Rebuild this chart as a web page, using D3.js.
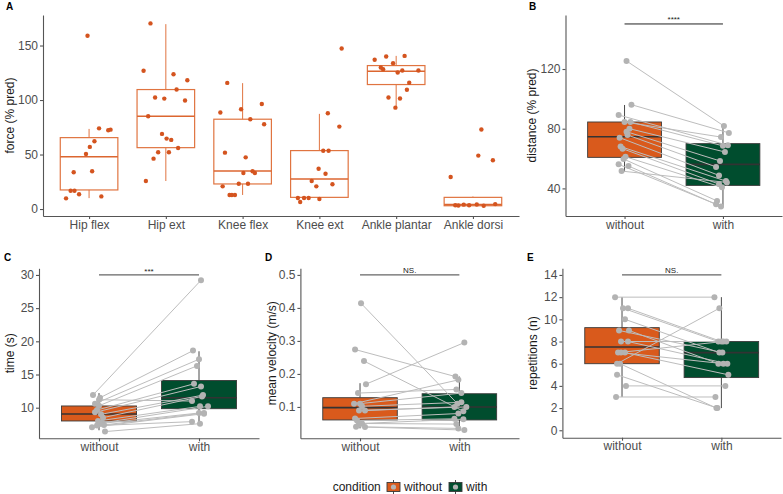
<!DOCTYPE html>
<html>
<head>
<meta charset="utf-8">
<script src="https://cdn.jsdelivr.net/npm/d3@7"></script>
<style>
  body { margin: 0; background: #fff; }
  svg { font-family: "Liberation Sans", Arial, sans-serif; }
</style>
</head>
<body>
<svg></svg>
<script>
const WIDTH = 783;
const HEIGHT = 494;
const ORANGE = '#d95a1c';
const GREEN = '#004d2e';
const CONDITIONS = ['without', 'with'];

// ---- panel A: force per muscle group, [value, jitter as fraction of step]
const muscles = ['Hip flex', 'Hip ext', 'Knee flex', 'Knee ext', 'Ankle plantar', 'Ankle dorsi'];
const forceTicks = [0, 50, 100, 150];
const forceDomain = [-6.4, 178];
// [lower whisker, q1, median, q3, upper whisker]
const forceBoxes = [
  [10, 17.5, 48, 65.5, 73.5],
  [25.7, 56.3, 85.1, 109.6, 169.6],
  [12.9, 23, 34.9, 82.4, 115.5],
  [9.2, 10.7, 27.6, 53.6, 87.3],
  [93, 114.2, 126.4, 131.6, 140.5],
  [3, 3, 4, 10.7, 11.5]
];
const hipFlex = [[158.9, -0.02], [9.8, -0.3], [16.8, -0.24], [16.8, -0.19], [13.5, -0.13], [33.7, -0.2], [34.6, 0.04],
  [50.5, -0.04], [57, 0.01], [62.2, 0.07], [74, 0.13], [72.2, 0.25], [72.8, 0.28], [11.6, 0.16]];
const hipExt = [[170.3, -0.2], [126.9, -0.29], [123.7, 0.1], [118.2, 0.28], [109.6, 0.14], [102.3, -0.14], [101.3, -0.02],
  [99.5, 0.25], [85.1, -0.23], [68.9, -0.05], [64.6, 0.01], [63.4, 0.07], [56, 0.16], [52.1, -0.1], [52.1, 0.04],
  [46.2, -0.16], [25.7, -0.26]];
const kneeFlex = [[115.7, -0.2], [88.5, -0.29], [91.6, -0.02], [82.4, 0.1], [96.4, 0.25], [77.8, 0.28], [51.7, -0.23],
  [47.4, 0.04], [33.1, 0.01], [34.6, 0.13], [33, 0.16], [20.8, -0.26], [23.2, -0.05], [23.2, 0.07], [12.9, -0.17],
  [12.9, -0.14], [12.9, -0.1]];
const kneeExt = [[147.3, 0.29], [87.9, 0.11], [75.6, 0.26], [37, -0.01], [32.4, 0.08], [25.7, -0.1], [22.7, 0.17],
  [20.8, -0.04], [6.4, -0.25], [10.1, -0.28], [10.1, -0.2], [10.1, -0.14], [53.5, 0.05], [53.5, 0.12], [9.2, 0]];
const anklePlantar = [[136.9, -0.28], [139.9, -0.13], [140.5, 0.11], [133.8, -0.04], [129.8, -0.2], [128.3, -0.17],
  [127.1, 0.08], [127.1, 0.29], [125.3, 0.02], [115.8, 0.17], [109.4, 0.14], [102.3, -0.1], [101.4, 0.05], [93, -0.01]];
const ankleDorsi = [[72.9, 0.11], [49, 0.07], [44.7, 0.26], [29.4, -0.29], [3.5, -0.23], [3.2, -0.19], [4, -0.12],
  [3.5, -0.05], [4.2, 0.05], [3, 0.14], [4.5, 0.29]];
const forcePoints = [hipFlex, hipExt, kneeFlex, kneeExt, anklePlantar, ankleDorsi];

// ---- panel B: distance, paired by index
const distWithout = [125.4, 96.1, 89.2, 84.5, 84.5, 80, 78, 75.8, 74, 68, 66.6, 61.2, 59.7, 56.1, 55, 51.6];
const distWith = [81.8, 77.2, 68.9, 74.4, 68.5, 64.4, 58.4, 54.4, 48.7, 44.9, 42.9, 40.7, 31.6, 29.4, 27.9, 44];
const distJitWithout = [0.02, 0.07, -0.06, 0, 0.06, 0.05, 0.02, 0.03, -0.05, -0.04, -0.02, 0.01, -0.01, -0.06, 0.04, -0.03];
const distJitWith = [0.01, 0.06, 0.05, -0.02, 0, 0.02, -0.03, -0.07, -0.04, 0.03, -0.04, -0.01, -0.06, -0.07, -0.02, 0.04];
const distBoxes = [[51.2, 60.8, 74.6, 84.5, 95.9], [27.3, 42, 56.1, 70, 81.5]];
const distTicks = [40, 80, 120];
const distDomain = [21.5, 156.2];

// ---- panel C: time
const timeWithout = [11.9, 11.5, 11.2, 10.6, 10.3, 9.65, 9.3, 9, 8.5, 8, 7.7, 7.6, 7.4, 7.3, 7.05, 6.4];
const timeWith = [29.2, 18.6, 11, 17.3, 16.3, 13.6, 13.2, 11.9, 11.7, 10.2, 10.2, 9.2, 9.2, 7.9, 9.1, 7.6];
const timeJitWithout = [-0.06, 0.01, 0, -0.04, 0, -0.02, -0.04, 0.02, 0.04, -0.01, 0.03, 0.01, 0.05, -0.02, -0.07, 0.06];
const timeJitWith = [0.02, -0.06, -0.07, 0, -0.02, -0.05, 0.02, 0.04, 0.03, 0.01, 0.09, 0, 0.05, -0.07, 0.05, 0.01];
const timeBoxes = [[6.6, 8, 9.05, 10.26, 12.2], [7.6, 9.85, 11.5, 14.1, 18.5]];
const timeTicks = [10, 15, 20, 25, 30];
const timeDomain = [5.39, 31];

// ---- panel D: mean velocity
const velWithout = [0.414, 0.274, 0.239, 0.169, 0.142, 0.11, 0.11, 0.102, 0.0895, 0.089, 0.065, 0.059, 0.05, 0.05, 0.04, 0.039];
const velWith = [0.11, 0.192, 0.087, 0.295, 0.153, 0.182, 0.142, 0.114, 0.1, 0.1, 0.08, 0.064, 0.063, 0.048, 0.035, 0.03];
const velJitWithout = [0.01, -0.05, 0.04, 0.06, -0.02, -0.06, 0, 0.02, -0.01, 0.05, -0.05, -0.03, 0.02, -0.01, -0.04, 0.05];
const velJitWith = [-0.02, -0.04, 0.04, 0.05, -0.03, -0.01, 0.02, 0.02, 0.07, -0.05, -0.01, -0.05, 0.04, -0.03, -0.01, 0.05];
const velBoxes = [[0.035, 0.0606, 0.098, 0.128, 0.172], [0.03, 0.0606, 0.1, 0.14, 0.192]];
const velTicks = [0.1, 0.2, 0.3, 0.4, 0.5];
const velDomain = [0.005, 0.52];

// ---- panel E: repetitions
const repWithout = [12, 11, 11, 10, 9, 9, 8, 8, 7, 7, 7, 6, 6, 5, 4, 3];
const repWith = [12, 8, 8, 7, 7, 6, 8, 6, 8, 6, 5, 11, 2, 2, 4, 3];
const repJitWithout = [-0.07, 0.01, 0.06, 0.03, -0.03, 0.07, -0.01, 0.06, -0.04, -0.01, 0.03, -0.05, -0.02, -0.05, 0.04, -0.06];
const repJitWith = [-0.07, -0.03, 0, -0.02, 0.01, -0.03, 0.05, 0.06, 0.02, 0.02, 0.07, -0.02, -0.05, -0.04, 0.04, -0.06];
const repBoxes = [[3, 6, 7.5, 9.25, 12], [2, 4.75, 7, 8, 12]];
const repTicks = [0, 2, 4, 6, 8, 10, 12, 14];
const repDomain = [-0.67, 14.6];

const svg = d3.select('svg').attr('width', WIDTH).attr('height', HEIGHT);

function styleAxis(g) {
  g.selectAll('path, line').attr('stroke', '#555').attr('stroke-width', 1.1);
  g.selectAll('text').attr('fill', '#4d4d4d').attr('font-size', 12)
    .attr('font-family', '"Liberation Sans", Arial, sans-serif');
}

function drawAxes(x, y, ticks, fmt) {
  const [y0] = y.range();
  const [x0] = x.range();
  svg.append('g').attr('transform', `translate(0, ${y0})`)
    .call(d3.axisBottom(x).tickSize(3).tickSizeOuter(0).tickPadding(1))
    .call(styleAxis);
  svg.append('g').attr('transform', `translate(${x0}, 0)`)
    .call(d3.axisLeft(y).tickValues(ticks).tickFormat(fmt).tickSize(3).tickSizeOuter(0).tickPadding(2))
    .call(styleAxis);
}

function yTitle(text, x, y) {
  const [b, t] = y.range();
  svg.append('text')
    .attr('transform', `translate(${x}, ${(b + t) / 2}) rotate(-90)`)
    .attr('text-anchor', 'middle').attr('font-size', 12).attr('fill', '#1a1a1a')
    .text(text);
}

function panelLabel(text, x, y) {
  svg.append('text').attr('x', x).attr('y', y)
    .attr('font-size', 10).attr('font-weight', 'bold').attr('fill', '#000').text(text);
}

function drawBox(g, cx, w, y, s, opts) {
  g.append('line').attr('x1', cx).attr('x2', cx).attr('y1', y(s[0])).attr('y2', y(s[1]))
    .attr('stroke', opts.whisker).attr('stroke-width', 1);
  g.append('line').attr('x1', cx).attr('x2', cx).attr('y1', y(s[3])).attr('y2', y(s[4]))
    .attr('stroke', opts.whisker).attr('stroke-width', 1);
  g.append('rect').attr('x', cx - w / 2).attr('width', w)
    .attr('y', y(s[3])).attr('height', y(s[1]) - y(s[3]))
    .attr('fill', opts.fill).attr('stroke', opts.stroke).attr('stroke-width', opts.strokeWidth);
  g.append('line').attr('x1', cx - w / 2).attr('x2', cx + w / 2).attr('y1', y(s[2])).attr('y2', y(s[2]))
    .attr('stroke', opts.median).attr('stroke-width', opts.medianWidth);
}

// ---------------- panel A
{
  const x = d3.scalePoint().domain(muscles).range([43, 519]).padding(0.6);
  const y = d3.scaleLinear().domain(forceDomain).range([216, 15]);
  const step = x.step();
  const g = svg.append('g');
  muscles.forEach((m, i) => {
    drawBox(g, x(m), step * 0.75, y, forceBoxes[i], {
      fill: 'none', stroke: '#e07440', strokeWidth: 1.2, median: '#dc6630', medianWidth: 1.6, whisker: '#e07440'
    });
  });
  muscles.forEach((m, i) => {
    g.selectAll(null).data(forcePoints[i]).enter().append('circle')
      .attr('cx', (d) => x(m) + d[1] * step)
      .attr('cy', (d) => y(d[0]))
      .attr('r', 2.2)
      .attr('fill', '#d4541f');
  });
  drawAxes(x, y, forceTicks, d3.format('d'));
  yTitle('force (% pred)', 14, y);
  panelLabel('A', 6, 10);
}

// ---------------- paired panels
function drawPaired(p) {
  const x = d3.scalePoint().domain(CONDITIONS).range(p.xRange).padding(0.6);
  const y = d3.scaleLinear().domain(p.domain).range(p.yRange);
  const step = x.step();
  const g = svg.append('g');
  [GREEN, ORANGE].forEach(() => {});
  CONDITIONS.forEach((c, i) => {
    drawBox(g, x(c), step * 0.75, y, p.boxes[i], {
      fill: i === 0 ? ORANGE : GREEN, stroke: '#3a3a3a', strokeWidth: 0.9,
      median: '#333', medianWidth: 1.6, whisker: '#4a4a4a'
    });
  });
  const pairs = p.without.map((v, i) => ({
    x1: x('without') + p.jitWithout[i] * step, y1: y(v),
    x2: x('with') + p.jitWith[i] * step, y2: y(p.with[i])
  }));
  g.selectAll(null).data(pairs).enter().append('line')
    .attr('x1', (d) => d.x1).attr('y1', (d) => d.y1)
    .attr('x2', (d) => d.x2).attr('y2', (d) => d.y2)
    .attr('stroke', '#bdbdbd').attr('stroke-width', 1);
  const pts = pairs.flatMap((d) => [[d.x1, d.y1], [d.x2, d.y2]]);
  g.selectAll(null).data(pts).enter().append('circle')
    .attr('cx', (d) => d[0]).attr('cy', (d) => d[1])
    .attr('r', 3).attr('fill', '#b3b3b3');

  // significance bracket
  const by = y(p.sigY);
  svg.append('line').attr('x1', x('without')).attr('x2', x('with')).attr('y1', by).attr('y2', by)
    .attr('stroke', p.sigColor).attr('stroke-width', p.sigWidth);
  svg.append('text').attr('x', (x('without') + x('with')) / 2).attr('y', by - p.sigGap)
    .attr('text-anchor', 'middle').attr('font-size', 8).attr('fill', '#222').text(p.sig);

  drawAxes(x, y, p.ticks, p.fmt);
  yTitle(p.title, p.titleX, y);
  panelLabel(p.label, p.labelX, p.labelY);
}

drawPaired({
  label: 'B', labelX: 529, labelY: 10, title: 'distance (% pred)', titleX: 536,
  xRange: [565.5, 782], yRange: [216, 15], domain: distDomain, ticks: distTicks, fmt: d3.format('d'),
  without: distWithout, with: distWith, jitWithout: distJitWithout, jitWith: distJitWith, boxes: distBoxes,
  sig: '****', sigY: 150.2, sigColor: '#222', sigWidth: 1, sigGap: 2
});
drawPaired({
  label: 'C', labelX: 4, labelY: 261, title: 'time (s)', titleX: 14,
  xRange: [39, 259], yRange: [438.3, 268.3], domain: timeDomain, ticks: timeTicks, fmt: d3.format('d'),
  without: timeWithout, with: timeWith, jitWithout: timeJitWithout, jitWith: timeJitWith, boxes: timeBoxes,
  sig: '***', sigY: 30, sigColor: '#666', sigWidth: 1.3, sigGap: 1
});
drawPaired({
  label: 'D', labelX: 265, labelY: 261, title: 'mean velocity (m/s)', titleX: 276,
  xRange: [300.4, 519], yRange: [438.3, 268.3], domain: velDomain, ticks: velTicks, fmt: d3.format('.1f'),
  without: velWithout, with: velWith, jitWithout: velJitWithout, jitWith: velJitWith, boxes: velBoxes,
  sig: 'NS.', sigY: 0.5, sigColor: '#666', sigWidth: 1.3, sigGap: 1.5
});
drawPaired({
  label: 'E', labelX: 527, labelY: 261, title: 'repetitions (n)', titleX: 537,
  xRange: [562.4, 781], yRange: [437.7, 268.3], domain: repDomain, ticks: repTicks, fmt: d3.format('d'),
  without: repWithout, with: repWith, jitWithout: repJitWithout, jitWith: repJitWith, boxes: repBoxes,
  sig: 'NS.', sigY: 14, sigColor: '#666', sigWidth: 1.3, sigGap: 1.5
});

// ---------------- legend
{
  const lg = svg.append('g');
  lg.append('text').attr('x', 332.7).attr('y', 491).attr('font-size', 12).attr('fill', '#1a1a1a').text('condition');
  const keys = [
    { name: 'without', fill: ORANGE, x: 387, tx: 404 },
    { name: 'with', fill: GREEN, x: 449, tx: 466 }
  ];
  keys.forEach((k) => {
    const cx = k.x + 6.5;
    lg.append('line').attr('x1', cx).attr('x2', cx).attr('y1', 480).attr('y2', 494)
      .attr('stroke', '#4a4a4a').attr('stroke-width', 1);
    lg.append('rect').attr('x', k.x).attr('y', 482.5).attr('width', 13).attr('height', 9)
      .attr('fill', k.fill).attr('stroke', '#3a3a3a').attr('stroke-width', 0.9);
    lg.append('circle').attr('cx', cx).attr('cy', 487).attr('r', 2.6).attr('fill', '#b3b3b3');
    lg.append('text').attr('x', k.tx).attr('y', 491).attr('font-size', 12).attr('fill', '#1a1a1a').text(k.name);
  });
}
</script>
</body>
</html>
